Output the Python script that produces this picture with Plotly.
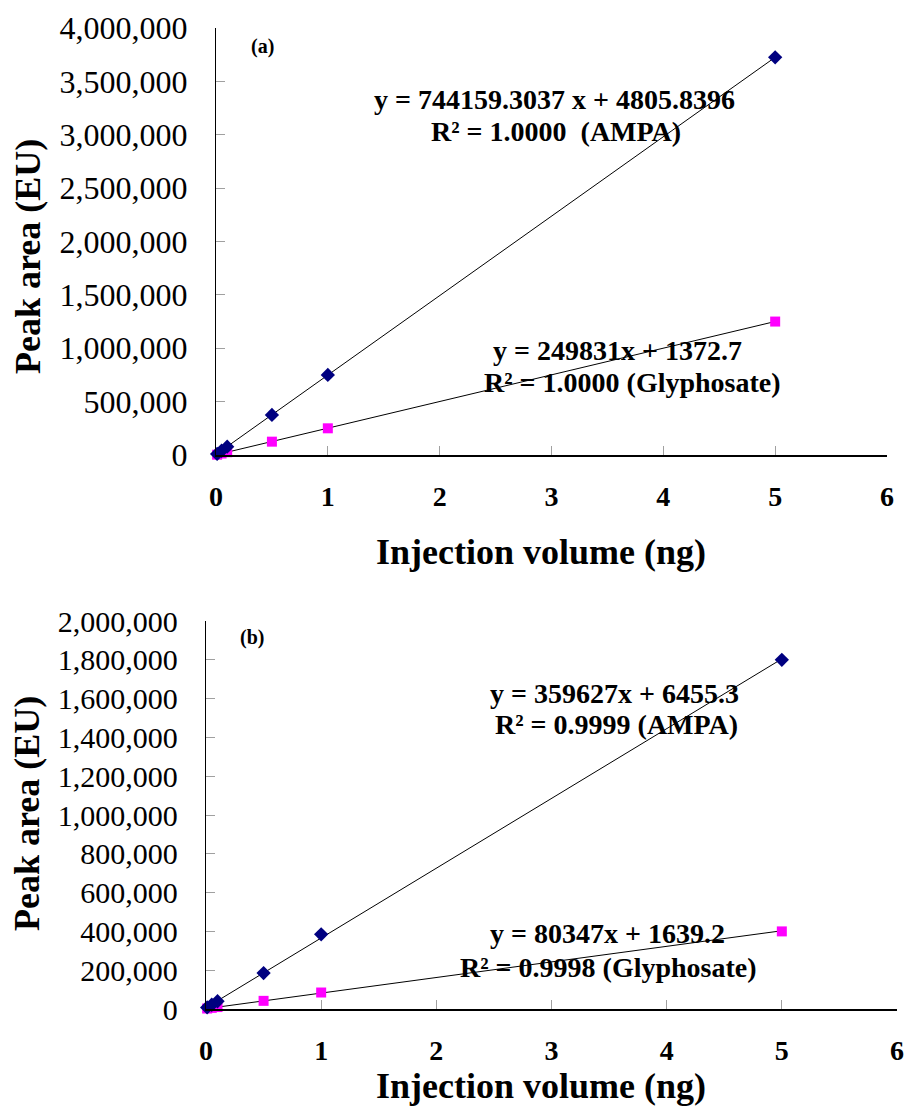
import plotly.graph_objects as go

# ---- data ----
x_vol = [0.01, 0.05, 0.1, 0.5, 1, 5]

ampa_a = [10000, 40000, 78000, 375000, 750000, 3725000]
gly_a = [3000, 14000, 26000, 125000, 250000, 1250000]

ampa_b = [8000, 22000, 40000, 185000, 385000, 1800000]
gly_b = [2500, 6000, 10000, 42000, 85000, 400000]

# trendline coefficients (slope, intercept) as printed on the chart
fit_ampa_a = (744159.3037, 4805.8396)
fit_gly_a = (249831, 1372.7)
fit_ampa_b = (359627, 6455.3)
fit_gly_b = (80347, 1639.2)
line_x = [0, 5]

W, H = 907, 1106
FONT = "Liberation Serif"

def px(xp):
    return xp / W

def py(yp):
    return 1 - yp / H

fig = go.Figure()

def add_panel(xa, ya, ampa, gly, fa, fg):
    for (m, b) in (fa, fg):
        fig.add_trace(go.Scatter(x=line_x, y=[m * v + b for v in line_x], mode="lines",
                                 line=dict(color="black", width=1), xaxis=xa, yaxis=ya,
                                 showlegend=False, hoverinfo="skip"))
    fig.add_trace(go.Scatter(x=x_vol, y=gly, mode="markers", xaxis=xa, yaxis=ya,
                             marker=dict(symbol="square", size=10, color="#FF00FF"),
                             showlegend=False, cliponaxis=False))
    fig.add_trace(go.Scatter(x=x_vol, y=ampa, mode="markers", xaxis=xa, yaxis=ya,
                             marker=dict(symbol="diamond", size=11, color="#000080"),
                             showlegend=False, cliponaxis=False))

add_panel("x", "y", ampa_a, gly_a, fit_ampa_a, fit_gly_a)
add_panel("x2", "y2", ampa_b, gly_b, fit_ampa_b, fit_gly_b)

common_x = dict(range=[0, 6], dtick=1, tick0=0, showgrid=False, zeroline=False,
                showline=True, linecolor="black", linewidth=1.5,
                ticks="inside", ticklen=9, tickwidth=1, tickcolor="#a0a0a0",
                tickfont=dict(family=FONT, size=28, color="black", weight="bold"),
                ticklabelstandoff=16, ticklabeloverflow="allow",
                automargin=False, fixedrange=True)
common_y = dict(showgrid=False, zeroline=False, showline=True, linecolor="black",
                linewidth=1.2, ticks="inside", ticklen=9, tickwidth=1,
                tickcolor="#a0a0a0", tickformat=",d", automargin=False,
                ticklabelstandoff=21, fixedrange=True)

fig.update_layout(
    width=W, height=H, margin=dict(l=0, r=0, t=0, b=0),
    paper_bgcolor="white", plot_bgcolor="white", template="none",
    xaxis=dict(common_x, domain=[px(216), px(887)], anchor="y"),
    yaxis=dict(common_y, domain=[py(455), py(28)], anchor="x", range=[0, 4000000],
               dtick=500000, tickfont=dict(family=FONT, size=32, color="black")),
    xaxis2=dict(common_x, domain=[px(206), px(897)], anchor="y2"),
    yaxis2=dict(common_y, domain=[py(1009), py(621)], anchor="x2", range=[0, 2000000],
                dtick=200000, tickfont=dict(family=FONT, size=30, color="black")),
)

def txt(s, x, y, size, angle=0):
    fig.add_annotation(text=s, x=px(x), y=py(y), xref="paper", yref="paper",
                       showarrow=False, textangle=angle, xanchor="center", yanchor="middle",
                       font=dict(family=FONT, size=size, color="black", weight="bold"))

# axis titles
txt("Peak area (EU)", 28, 257, 36, -90)
txt("Injection volume (ng)", 541, 552, 36)
txt("Peak area (EU)", 27, 814, 36, -90)
txt("Injection volume (ng)", 541, 1086, 36)

# panel labels
txt("(a)", 262, 47, 20)
txt("(b)", 252, 637, 20)

# equations
txt("y = 744159.3037 x + 4805.8396", 554, 100, 28)
txt("R² = 1.0000  (AMPA)", 556, 131, 28)
txt("y = 249831x + 1372.7", 617, 350, 28)
txt("R² = 1.0000 (Glyphosate)", 632, 382, 28)
txt("y = 359627x + 6455.3", 614, 693, 28)
txt("R² = 0.9999 (AMPA)", 616, 724, 28)
txt("y = 80347x + 1639.2", 607, 933, 28)
txt("R² = 0.9998 (Glyphosate)", 608, 967, 28)

fig.write_html(
    "out.html",
    config={"displayModeBar": False, "staticPlot": True},
    post_script="document.body.style.margin='0';"
                "document.documentElement.style.overflow='hidden';"
                "document.body.style.overflow='hidden';",
)
